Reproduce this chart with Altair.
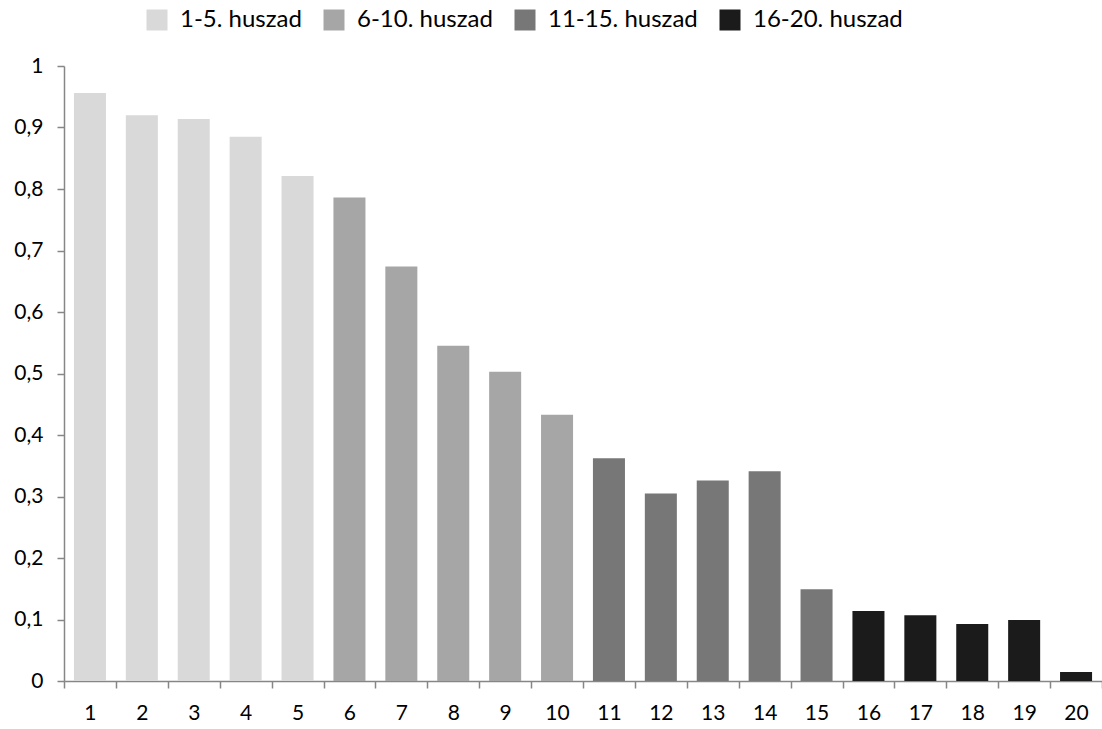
import altair as alt
import pandas as pd

# Position (1..20) and the share attached to each position
positions = ["1", "2", "3", "4", "5", "6", "7", "8", "9", "10",
             "11", "12", "13", "14", "15", "16", "17", "18", "19", "20"]
shares = [0.956, 0.920, 0.914, 0.885, 0.821, 0.786, 0.674, 0.545, 0.503, 0.433,
          0.362, 0.305, 0.326, 0.341, 0.149, 0.114, 0.107, 0.0925, 0.099, 0.0146]
groups = ["1-5. huszad", "1-5. huszad", "1-5. huszad", "1-5. huszad", "1-5. huszad",
          "6-10. huszad", "6-10. huszad", "6-10. huszad", "6-10. huszad", "6-10. huszad",
          "11-15. huszad", "11-15. huszad", "11-15. huszad", "11-15. huszad", "11-15. huszad",
          "16-20. huszad", "16-20. huszad", "16-20. huszad", "16-20. huszad", "16-20. huszad"]

group_names = ["1-5. huszad", "6-10. huszad", "11-15. huszad", "16-20. huszad"]
group_colors = ["#d9d9d9", "#a6a6a6", "#777777", "#1b1b1b"]
y_ticks = [0, 0.1, 0.2, 0.3, 0.4, 0.5, 0.6, 0.7, 0.8, 0.9, 1.0]

df = pd.DataFrame({"pos": positions, "share": shares, "group": groups})

FONT = "Lato"
AXIS_GRAY = "#868686"

chart = (
    alt.Chart(df)
    .mark_bar(width=alt.RelativeBandSize(0.617))
    .encode(
        x=alt.X(
            "pos:N",
            sort=positions,
            # bands fill the range so that extent ticks fall between bars
            scale=alt.Scale(paddingInner=0, paddingOuter=0),
            axis=alt.Axis(
                title=None,
                labelAngle=0,
                tickBand="extent",
                tickSize=7,
                labelPadding=14,
                labelFontSize=21,
                labelColor="black",
                domainColor=AXIS_GRAY,
                tickColor=AXIS_GRAY,
                domainWidth=1.5,
                tickWidth=1.5,
            ),
        ),
        y=alt.Y(
            "share:Q",
            scale=alt.Scale(domain=[0, 1], nice=False),
            axis=alt.Axis(
                title=None,
                values=y_ticks,
                grid=False,
                labelExpr="replace(format(datum.value, '.1~f'), '.', ',')",
                tickSize=7,
                labelPadding=14,
                labelFontSize=21,
                labelColor="black",
                domainColor=AXIS_GRAY,
                tickColor=AXIS_GRAY,
                domainWidth=1.5,
                tickWidth=1.5,
            ),
        ),
        color=alt.Color(
            "group:N",
            scale=alt.Scale(domain=group_names, range=group_colors),
            legend=alt.Legend(
                title=None,
                orient="none",
                direction="horizontal",
                legendX=81,
                legendY=-58,
                symbolType="square",
                symbolSize=441,
                symbolStrokeWidth=0,
                labelFontSize=24,
                labelColor="black",
                labelOffset=11,
                columnPadding=20,
            ),
        ),
    )
    .properties(
        width=1038,
        height=615,
        autosize=alt.AutoSizeParams(type="none"),
        padding={"left": 64, "top": 66, "right": 0, "bottom": 48},
    )
    .configure(font=FONT)
    .configure_view(stroke=None)
)

chart.save("out.html", embed_options={"renderer": "svg", "actions": False})
